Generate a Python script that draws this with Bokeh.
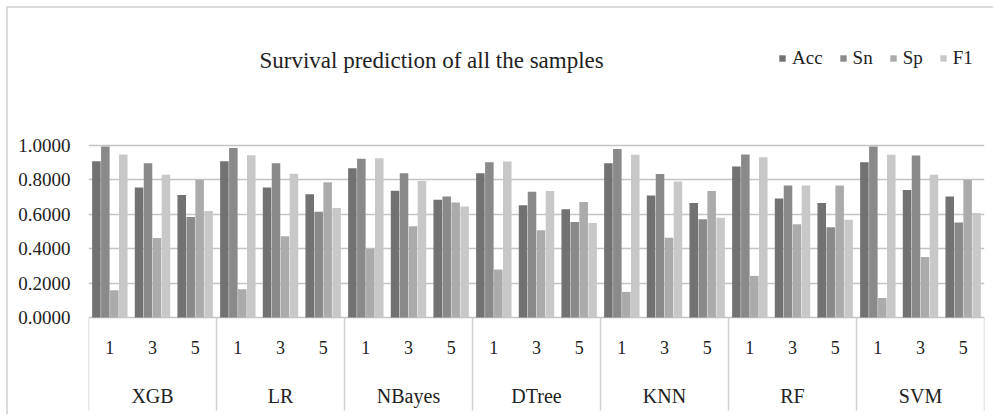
from bokeh.plotting import figure
from bokeh.models import (ColumnDataSource, FactorRange, Range1d, FixedTicker,
                          CustomJSTickFormatter, Legend, LegendItem, Label)
from bokeh.transform import dodge
from bokeh.core.properties import value
from bokeh.embed import file_html
from bokeh.resources import INLINE

models = ["XGB", "LR", "NBayes", "DTree", "KNN", "RF", "SVM"]
years = ["1", "3", "5"]
metrics = ["Acc", "Sn", "Sp", "F1"]

acc = [0.909, 0.756, 0.712, 0.909, 0.756, 0.716, 0.868, 0.737, 0.685, 0.838, 0.652, 0.629,
       0.897, 0.710, 0.665, 0.878, 0.692, 0.665, 0.903, 0.741, 0.704]
sn = [0.994, 0.897, 0.584, 0.986, 0.897, 0.615, 0.923, 0.838, 0.704, 0.903, 0.731, 0.555,
      0.979, 0.834, 0.571, 0.948, 0.768, 0.524, 0.994, 0.942, 0.553]
sp = [0.159, 0.462, 0.801, 0.164, 0.472, 0.787, 0.400, 0.530, 0.669, 0.279, 0.507, 0.671,
      0.149, 0.464, 0.735, 0.242, 0.542, 0.768, 0.114, 0.352, 0.801]
f1 = [0.948, 0.830, 0.619, 0.944, 0.836, 0.636, 0.926, 0.793, 0.646, 0.907, 0.735, 0.549,
      0.946, 0.791, 0.580, 0.932, 0.768, 0.569, 0.946, 0.830, 0.607]

y_ticks = [0.0, 0.2, 0.4, 0.6, 0.8, 1.0]

FONT = "Liberation Serif"
colors = ["#727272", "#8a8a8a", "#ababab", "#c8c8c8"]
offsets = [-0.315, -0.105, 0.105, 0.315]

factors = [(m, y) for m in models for y in years]
src = ColumnDataSource(dict(x=factors, Acc=acc, Sn=sn, Sp=sp, F1=f1))

p = figure(width=987, height=408, output_backend="svg", toolbar_location=None,
           x_range=FactorRange(factors=factors, factor_padding=0, group_padding=0,
                               subgroup_padding=0, range_padding=0),
           y_range=Range1d(-99 / 172, 1 + 137 / 172),
           x_axis_location=None, min_border_left=80, min_border_right=11,
           min_border_top=0, min_border_bottom=0)
p.margin = (6, 0, 0, 6)
p.styles = {"border-top": "2px solid #dcdcdc", "border-left": "2px solid #dcdcdc"}
p.outline_line_color = None
p.xgrid.visible = False
p.ygrid.ticker = FixedTicker(ticks=y_ticks)
p.ygrid.grid_line_color = "#c4c4c4"
p.ygrid.grid_line_width = 1.5

ya = p.yaxis[0]
ya.ticker = FixedTicker(ticks=y_ticks)
ya.formatter = CustomJSTickFormatter(code="return tick.toFixed(4);")
ya.axis_line_color = None
ya.major_tick_line_color = None
ya.minor_tick_line_color = None
ya.major_label_standoff = 12
ya.major_label_text_font = FONT
ya.major_label_text_font_size = "19px"
ya.major_label_text_color = "#222222"

items = []
for m, c, off in zip(metrics, colors, offsets):
    r = p.vbar(x=dodge("x", off, range=p.x_range), top=m, width=0.2, source=src,
               fill_color=c, line_color=None)
    items.append(LegendItem(label=m, renderers=[r]))

# separators below the category axis
p.segment(x0=dodge("x", -0.5, range=p.x_range), x1=dodge("x", -0.5, range=p.x_range),
          y0=0, y1=-0.54, source=ColumnDataSource(dict(x=[(m, years[0]) for m in models])),
          line_color="#d0d0d0", line_width=1.5)
p.segment(x0=dodge("x", 0.5, range=p.x_range), x1=dodge("x", 0.5, range=p.x_range),
          y0=0, y1=-0.54, source=ColumnDataSource(dict(x=[(models[-1], years[-1])])),
          line_color="#d0d0d0", line_width=1.5)

# category labels
p.text(x="x", y=-0.175, text="t", source=ColumnDataSource(dict(x=factors, t=[f[1] for f in factors])),
       text_font=value(FONT), text_font_size="18px", text_align="center",
       text_baseline="middle", text_color="#222222")
p.text(x="x", y=-0.455, text="t",
       source=ColumnDataSource(dict(x=[(m, years[1]) for m in models], t=models)),
       text_font=value(FONT), text_font_size="20px", text_align="center",
       text_baseline="middle", text_color="#222222")

legend = Legend(items=items, orientation="horizontal", location=(690, 347),
                glyph_width=8, glyph_height=8, label_standoff=6, spacing=16,
                padding=0, margin=0, border_line_color=None, background_fill_alpha=0,
                label_text_font=FONT, label_text_font_size="19px",
                label_text_color="#222222")
p.add_layout(legend, "center")

p.add_layout(Label(x=346, y=356, x_units="screen", y_units="screen",
                   text="Survival prediction of  all the samples", text_font=FONT,
                   text_font_size="23px", text_align="center", text_baseline="middle",
                   text_color="#222222"))

open("out.html", "w").write(file_html(p, INLINE))
